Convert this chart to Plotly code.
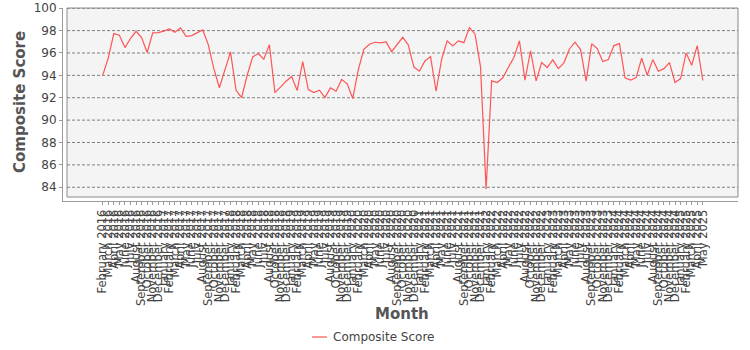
import plotly.graph_objects as go

# Monthly composite score (no readings for Sep 2018, Sep 2019, Sep 2022)
months = [
    "February 2016", "March 2016", "April 2016", "May 2016", "June 2016", "July 2016",
    "August 2016", "September 2016", "October 2016", "November 2016", "December 2016",
    "January 2017", "February 2017", "March 2017", "April 2017", "May 2017", "June 2017",
    "July 2017", "August 2017", "September 2017", "October 2017", "November 2017", "December 2017",
    "January 2018", "February 2018", "March 2018", "April 2018", "May 2018", "June 2018",
    "July 2018", "August 2018", "October 2018", "November 2018", "December 2018",
    "January 2019", "February 2019", "March 2019", "April 2019", "May 2019", "June 2019",
    "July 2019", "August 2019", "October 2019", "November 2019", "December 2019",
    "January 2020", "February 2020", "March 2020", "April 2020", "May 2020", "June 2020",
    "July 2020", "August 2020", "September 2020", "October 2020", "November 2020", "December 2020",
    "January 2021", "February 2021", "March 2021", "April 2021", "May 2021", "June 2021",
    "July 2021", "August 2021", "September 2021", "October 2021", "November 2021", "December 2021",
    "January 2022", "February 2022", "March 2022", "April 2022", "May 2022", "June 2022",
    "July 2022", "August 2022", "October 2022", "November 2022", "December 2022",
    "January 2023", "February 2023", "March 2023", "April 2023", "May 2023", "June 2023",
    "July 2023", "August 2023", "September 2023", "October 2023", "November 2023", "December 2023",
    "January 2024", "February 2024", "March 2024", "April 2024", "May 2024", "June 2024",
    "July 2024", "August 2024", "September 2024", "October 2024", "November 2024", "December 2024",
    "January 2025", "February 2025", "March 2025", "April 2025", "May 2025",
]

composite_score = [
    94.0, 95.55, 97.73, 97.58, 96.48, 97.29, 97.94, 97.38, 96.04, 97.8, 97.82,
    97.95, 98.15, 97.85, 98.25, 97.49, 97.55, 97.83, 98.06, 96.75, 94.6, 92.89, 94.46,
    96.1, 92.67, 92.02, 94.01, 95.65, 95.95, 95.44, 96.75, 92.45, 92.95, 93.48,
    93.9, 92.65, 95.22, 92.73, 92.46, 92.67, 92.03, 92.88, 92.58, 93.64, 93.24,
    91.93, 94.5, 96.33, 96.78, 96.96, 96.9, 96.99, 96.12, 96.8, 97.4, 96.72, 94.74,
    94.37, 95.29, 95.68, 92.58, 95.45, 97.08, 96.62, 97.08, 96.92, 98.27, 97.7, 94.76,
    83.85, 93.51, 93.36, 93.78, 94.7, 95.6, 97.08, 93.57, 96.2, 93.5, 95.15,
    94.7, 95.38, 94.6, 95.12, 96.36, 96.96, 96.3, 93.48, 96.82, 96.39, 95.24, 95.41,
    96.66, 96.84, 93.77, 93.57, 93.8, 95.53, 94.01, 95.41, 94.37, 94.6, 95.14, 93.36,
    93.71, 96.0, 94.9, 96.66, 93.54,
]

y_ticks = [84, 86, 88, 90, 92, 94, 96, 98, 100]
series_name = "Composite Score"
line_color = "#ff5555"

W, H = 750, 350
L, R, T, B = 63, 12, 8, 149          # axes sit 4px outside the shaded plot area
pw, ph = W - L - R, H - T - B
gap_x, gap_y = 4 / pw, 4 / ph

idx = list(range(len(months)))
step = 5.5565                           # px per category
x_lo = -(102.7 - L) / step
x_hi = (len(months) - 1) + (W - R - 702.8) / step
y_lo = 98 - (ph + T - 30.3) / 11.21
y_hi = 98 + (30.3 - T) / 11.21 + 0.03


def px_x(px):
    return (px - L) / pw


def px_y(px):
    return (T + ph - px) / ph


fig = go.Figure()
fig.add_trace(go.Scatter(
    x=idx, y=composite_score, mode="lines", name=series_name,
    line=dict(color=line_color, width=1.2), showlegend=False,
))

shapes = [dict(type="rect", xref="paper", yref="paper", x0=gap_x, x1=1, y0=gap_y, y1=1,
               fillcolor="#f4f4f4", line=dict(color="#8a8a8a", width=1), layer="below")]
for v in y_ticks:
    shapes.append(dict(type="line", xref="paper", yref="y", x0=gap_x, x1=1, y0=v, y1=v,
                       line=dict(color="#808080", width=1, dash="3px,2px"), layer="below"))
# legend swatch below the axis title
shapes.append(dict(type="line", xref="paper", yref="paper", x0=px_x(312), x1=px_x(327),
                   y0=px_y(337), y1=px_y(337), line=dict(color=line_color, width=1.2)))

axis_font = dict(family="DejaVu Sans", size=12, color="#444444")
fig.update_layout(
    width=W, height=H,
    margin=dict(l=L, r=R, t=T, b=B),
    paper_bgcolor="white", plot_bgcolor="white",
    shapes=shapes,
    showlegend=False,
    xaxis=dict(
        range=[x_lo, x_hi], tickmode="array", tickvals=idx, ticktext=months,
        tickangle=-90, tickfont=dict(family="DejaVu Sans", size=11.5, color="#444444"),
        showgrid=False, zeroline=False, showline=True, linecolor="#9a9a9a",
        ticks="outside", ticklen=3, tickcolor="#9a9a9a", automargin=False,
    ),
    yaxis=dict(
        range=[y_lo, y_hi], tickmode="array", tickvals=y_ticks,
        tickfont=axis_font, showgrid=False, zeroline=False, showline=True,
        linecolor="#9a9a9a", ticks="outside", ticklen=3, tickcolor="#9a9a9a",
        automargin=False,
    ),
    annotations=[
        dict(text="<b>Composite Score</b>", textangle=-90, xref="paper", yref="paper",
             x=px_x(20), y=px_y(102), xanchor="center", yanchor="middle",
             showarrow=False, font=dict(family="DejaVu Sans", size=15, color="#555555")),
        dict(text="<b>Month</b>", xref="paper", yref="paper",
             x=px_x(402), y=px_y(314), xanchor="center", yanchor="middle",
             showarrow=False, font=dict(family="DejaVu Sans", size=15, color="#555555")),
        dict(text=series_name, xref="paper", yref="paper",
             x=px_x(331), y=px_y(337), xanchor="left", yanchor="middle",
             showarrow=False, font=dict(family="DejaVu Sans", size=12, color="#444444")),
    ],
)

fig.write_html("out.html")
